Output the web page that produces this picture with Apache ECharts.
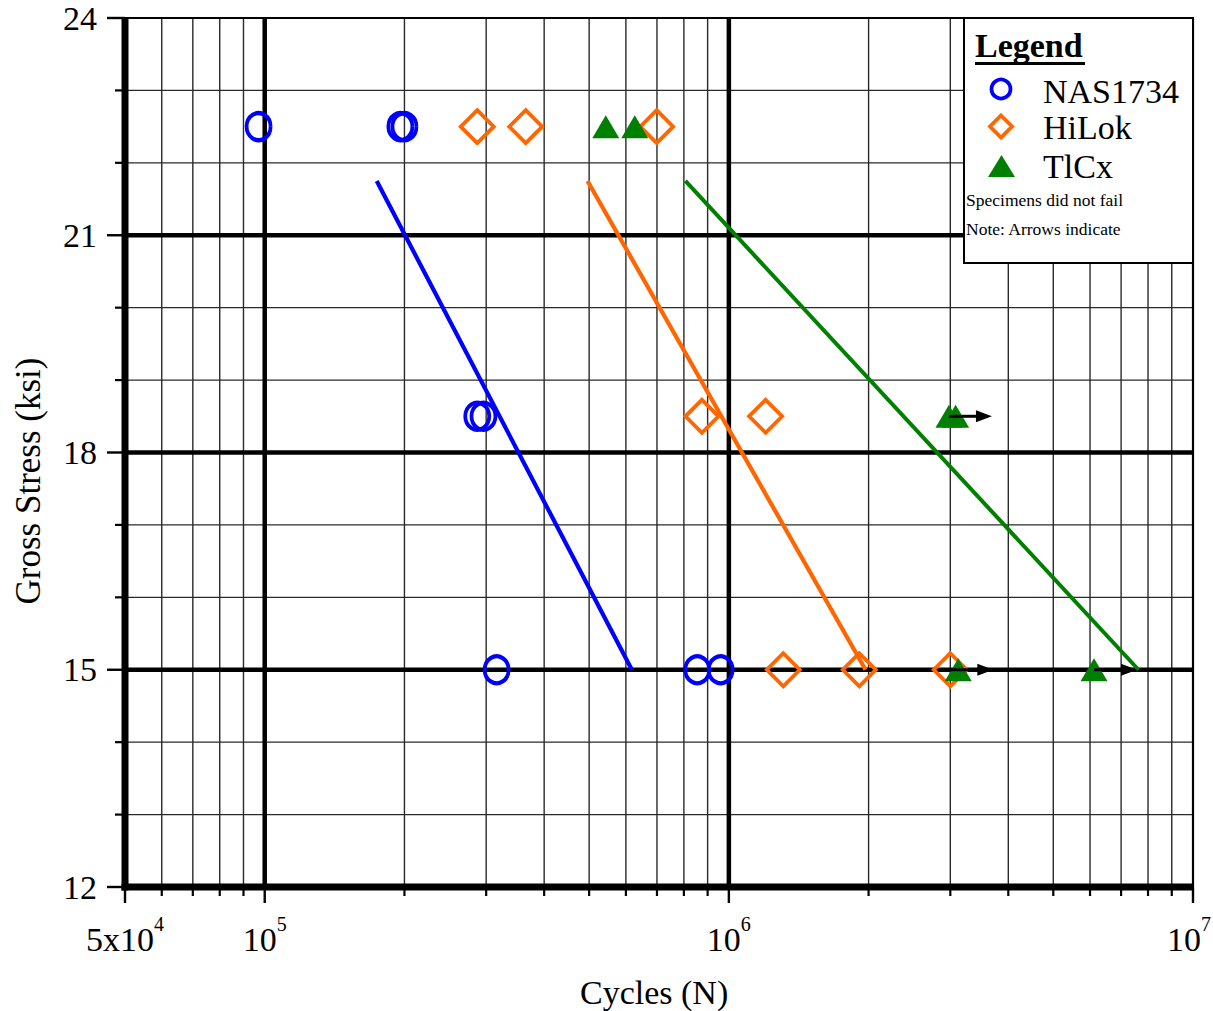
<!DOCTYPE html>
<html><head><meta charset="utf-8">
<script src="https://cdn.jsdelivr.net/npm/echarts@6/dist/echarts.min.js"></script>
<style>html,body{margin:0;padding:0;background:#fff}#c{width:1213px;height:1011px}</style>
</head><body><div id="c"></div>
<script>
// ---- data ----
const xTicksMajor = [5e4, 1e5, 1e6, 1e7];
const xTicksMinor = [6e4,7e4,8e4,9e4,2e5,3e5,4e5,5e5,6e5,7e5,8e5,9e5,2e6,3e6,4e6,5e6,6e6,7e6,8e6,9e6];
const yTicksMajor = [12, 15, 18, 21, 24];
const yTicksMinor = [13, 14, 16, 17, 19, 20, 22, 23];

const seriesNames = ['NAS1734', 'HiLok', 'TlCx'];
const nas1734 = [[9.7e4,22.5],[1.96e5,22.5],[2.0e5,22.5],[2.87e5,18.5],[2.96e5,18.5],[3.16e5,15],[8.55e5,15],[9.6e5,15]];
const hilok   = [[2.87e5,22.5],[3.65e5,22.5],[6.99e5,22.5],[8.75e5,18.5],[1.2e6,18.5],[1.31e6,15],[1.91e6,15],[3.0e6,15]];
const tlcx    = [[5.43e5,22.5],[6.27e5,22.5],[2.98e6,18.5],[3.08e6,18.5],[3.12e6,15],[6.12e6,15]];
const runouts = [[2.98e6,18.5],[3.0e6,15],[6.12e6,15]];
const nasFit   = [[1.743e5,21.75],[6.18e5,15]];
const hilokFit = [[4.96e5,21.75],[1.97e6,15]];
const tlcxFit  = [[8.06e5,21.75],[7.63e6,15]];

const FONT = '"Liberation Serif", "Times New Roman", serif';
const BLUE = '#0000ff', ORANGE = '#ff6600', GREEN = '#008000';

const chart = echarts.init(document.getElementById('c'), null, {renderer: 'svg'});

function renderGrid(params, api) {
  const p = (x, y) => api.coord([x, y]);
  const L = p(5e4, 12)[0], R = p(1e7, 12)[0], B = p(5e4, 12)[1], T = p(5e4, 24)[1];
  const ch = [];
  const line = (x1, y1, x2, y2, w, c) => ch.push({type: 'line', shape: {x1, y1, x2, y2}, style: {stroke: c || '#000', lineWidth: w}});
  xTicksMinor.forEach(v => { const x = p(v, 12)[0]; line(x, T, x, B, 1.4, '#2a2a2a'); line(x, B, x, B + 9, 2.2); });
  yTicksMinor.forEach(v => { const y = p(5e4, v)[1]; line(L, y, R, y, 1.4, '#2a2a2a'); line(L - 10, y, L, y, 2.2); });
  xTicksMajor.forEach(v => { const x = p(v, 12)[0]; line(x, B, x, B + 16, 2.4); });
  yTicksMajor.forEach(v => { const y = p(5e4, v)[1]; line(L - 18, y, L, y, 2.4); });
  yTicksMajor.forEach(v => {
    const y = p(5e4, v)[1];
    if (v === 12 || v === 24) return;
    line(L, y, R, y, 4.5);
  });
  xTicksMajor.forEach(v => {
    const x = p(v, 12)[0];
    if (v === 5e4 || v === 1e7) return;
    line(x, T, x, B, 4.5);
  });
  line(L, T, R, T, 2.2);      // top border
  line(R, T, R, B, 2.2);      // right border
  line(L, T - 1, L, B + 3.5, 7);  // left axis
  line(L - 3.5, B, R + 1, B, 7);  // bottom axis
  return {type: 'group', children: ch};
}

function renderArrow(params, api) {
  const c = api.coord([api.value(0), api.value(1)]);
  const x = c[0], y = c[1];
  return {type: 'group', children: [
    {type: 'line', shape: {x1: x, y1: y, x2: x + 30, y2: y}, style: {stroke: '#000', lineWidth: 3}},
    {type: 'polygon', shape: {points: [[x + 27, y - 6], [x + 43, y], [x + 27, y + 6]]}, style: {fill: '#000'}}
  ]};
}

const xMax = xTicksMajor[xTicksMajor.length - 1];
function xLabel(v) {
  const lg = Math.log10(v);
  const e = Math.floor(lg + 1e-9);
  const m = Math.round(v / Math.pow(10, e));
  let s = (m === 1 ? '{a|10}' : '{a|' + m + 'x10}') + '{b|' + e + '}';
  if (Math.abs(v - xMax) / xMax < 1e-6) s += '{p| }';
  return s;
}

const Z = 100;
const option = {
  animation: false,
  backgroundColor: '#fff',
  grid: {left: 125, right: 20, top: 18, bottom: 124, outerBoundsMode: 'none', containLabel: false},
  xAxis: {
    type: 'log', logBase: 10, min: 5e4, max: 1e7,
    axisLine: {show: false}, axisTick: {show: false}, splitLine: {show: false}, minorSplitLine: {show: false},
    axisLabel: {
      show: true, showMinLabel: true, showMaxLabel: true, margin: 26, hideOverlap: false,
      formatter: xLabel,
      rich: {
        a: {fontFamily: FONT, fontSize: 34, color: '#000', lineHeight: 52},
        b: {fontFamily: FONT, fontSize: 20, color: '#000', verticalAlign: 'top', lineHeight: 22, padding: [1, 0, 0, 0]},
        p: {fontFamily: FONT, fontSize: 10, width: 8, lineHeight: 10}
      }
    }
  },
  yAxis: {
    type: 'value', min: 12, max: 24, interval: 3,
    axisLine: {show: false}, axisTick: {show: false}, splitLine: {show: false},
    axisLabel: {margin: 28, fontFamily: FONT, fontSize: 34, color: '#000'}
  },
  graphic: [
    {type: 'text', left: 580, top: 975, style: {text: 'Cycles (N)', font: '34px ' + FONT, fill: '#000'}},
    {type: 'text', x: 28, y: 481, rotation: Math.PI / 2, style: {text: 'Gross Stress (ksi)', font: '35px ' + FONT, fill: '#000', align: 'center', verticalAlign: 'middle'}},
    {type: 'rect', z: Z, shape: {x: 964, y: 18, width: 229, height: 245}, style: {fill: '#fff', stroke: '#000', lineWidth: 2}},
    {type: 'text', z: Z, x: 975, y: 45, style: {text: 'Legend', font: 'bold 34px ' + FONT, fill: '#000', verticalAlign: 'middle'}},
    {type: 'line', z: Z, shape: {x1: 975, y1: 63.5, x2: 1085, y2: 63.5}, style: {stroke: '#000', lineWidth: 3}},
    {type: 'circle', z: Z, shape: {cx: 1001, cy: 89, r: 9.5}, style: {fill: 'none', stroke: BLUE, lineWidth: 3.8}},
    {type: 'text', z: Z, x: 1043, y: 91, style: {text: seriesNames[0], font: '34px ' + FONT, fill: '#000', verticalAlign: 'middle'}},
    {type: 'polygon', z: Z, shape: {points: [[1001, 115.5], [1012, 126.5], [1001, 137.5], [990, 126.5]]}, style: {fill: 'none', stroke: ORANGE, lineWidth: 3.8}},
    {type: 'text', z: Z, x: 1043, y: 127, style: {text: seriesNames[1], font: '34px ' + FONT, fill: '#000', verticalAlign: 'middle'}},
    {type: 'polygon', z: Z, shape: {points: [[1001.5, 155], [1015, 177], [988, 177]]}, style: {fill: GREEN}},
    {type: 'text', z: Z, x: 1043, y: 166, style: {text: seriesNames[2], font: '34px ' + FONT, fill: '#000', verticalAlign: 'middle'}},
    {type: 'text', z: Z, x: 966, y: 200, style: {text: 'Specimens did not fail', font: '17.5px ' + FONT, fill: '#000', verticalAlign: 'middle'}},
    {type: 'text', z: Z, x: 966, y: 229, style: {text: 'Note: Arrows indicate', font: '17.5px ' + FONT, fill: '#000', verticalAlign: 'middle'}}
  ],
  series: [
    {type: 'custom', name: 'grid', z: 1, clip: false, silent: true, data: [[1e5, 15]], renderItem: renderGrid},
    {type: 'line', name: seriesNames[0] + ' fit', z: 2, data: nasFit, showSymbol: false, lineStyle: {color: BLUE, width: 4.2}},
    {type: 'line', name: seriesNames[1] + ' fit', z: 2, data: hilokFit, showSymbol: false, lineStyle: {color: ORANGE, width: 4.2}},
    {type: 'line', name: seriesNames[2] + ' fit', z: 2, data: tlcxFit, showSymbol: false, lineStyle: {color: GREEN, width: 4}},
    {type: 'scatter', name: seriesNames[0], z: 3, data: nas1734, symbol: 'circle', symbolSize: [24, 27],
      itemStyle: {color: 'rgba(0,0,0,0)', borderColor: BLUE, borderWidth: 4, opacity: 1}},
    {type: 'scatter', name: seriesNames[1], z: 3, data: hilok, symbol: 'diamond', symbolSize: [33, 33],
      itemStyle: {color: 'rgba(0,0,0,0)', borderColor: ORANGE, borderWidth: 3.8, opacity: 1}},
    {type: 'scatter', name: seriesNames[2], z: 3, data: tlcx, symbol: 'triangle', symbolSize: [27, 23],
      itemStyle: {color: GREEN, opacity: 1}},
    {type: 'custom', name: 'runouts', z: 4, clip: false, data: runouts, renderItem: renderArrow}
  ]
};
chart.setOption(option);
</script>
</body></html>
